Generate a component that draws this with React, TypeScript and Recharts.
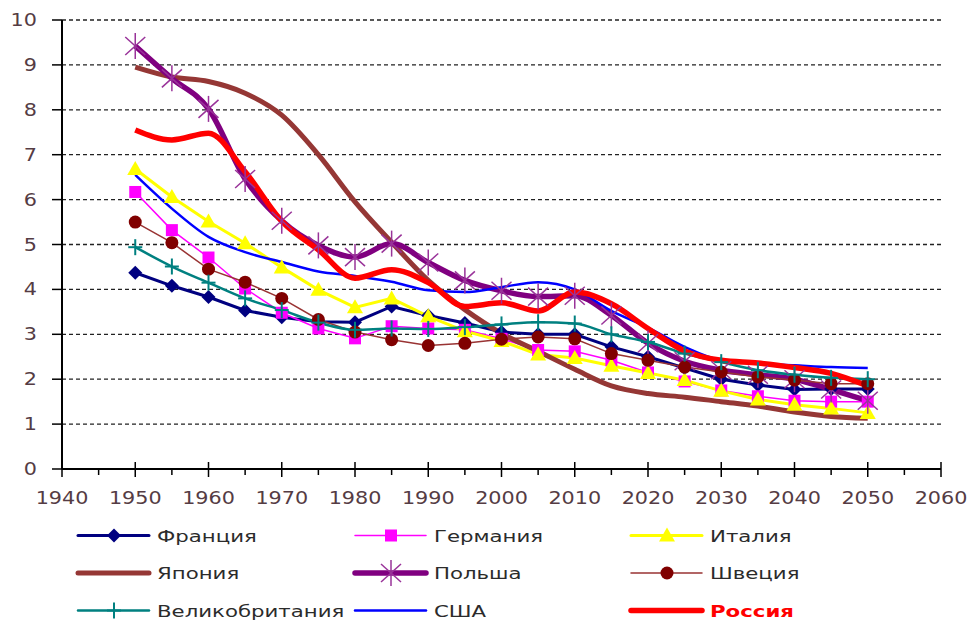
import React from 'react';
import { LineChart, Line, XAxis, YAxis, CartesianGrid } from 'recharts';

const years = [1950, 1955, 1960, 1965, 1970, 1975, 1980, 1985, 1990, 1995, 2000, 2005, 2010, 2015, 2020, 2025, 2030, 2035, 2040, 2045, 2050];

const france = [4.37, 4.08, 3.83, 3.53, 3.38, 3.28, 3.27, 3.62, 3.42, 3.25, 3.05, 3.0, 3.0, 2.72, 2.5, 2.25, 2.0, 1.87, 1.77, 1.78, 1.78];
const germany = [6.17, 5.32, 4.71, 4.02, 3.48, 3.13, 2.91, 3.18, 3.13, 3.1, 2.9, 2.65, 2.62, 2.42, 2.15, 1.95, 1.75, 1.62, 1.52, 1.5, 1.5];
const italy = [6.68, 6.06, 5.51, 5.03, 4.49, 3.99, 3.6, 3.8, 3.4, 3.07, 2.85, 2.55, 2.47, 2.3, 2.14, 1.98, 1.74, 1.55, 1.43, 1.35, 1.25];
const japan = [8.95, 8.73, 8.63, 8.37, 7.88, 7.0, 5.95, 5.05, 4.2, 3.55, 3.02, 2.62, 2.22, 1.85, 1.68, 1.6, 1.5, 1.4, 1.27, 1.17, 1.13];
const poland = [9.42, 8.7, 8.02, 6.46, 5.53, 4.98, 4.72, 5.02, 4.6, 4.2, 3.97, 3.84, 3.86, 3.42, 2.8, 2.4, 2.2, 2.1, 2.0, 1.77, 1.52];
const sweden = [5.5, 5.04, 4.45, 4.16, 3.8, 3.33, 3.05, 2.88, 2.75, 2.8, 2.89, 2.94, 2.9, 2.57, 2.42, 2.27, 2.16, 2.05, 1.98, 1.9, 1.9];
const uk = [4.94, 4.51, 4.15, 3.8, 3.54, 3.26, 3.1, 3.13, 3.12, 3.16, 3.22, 3.27, 3.24, 3.0, 2.83, 2.57, 2.38, 2.2, 2.1, 2.03, 2.0];
const usa = [6.55, 5.8, 5.17, 4.83, 4.61, 4.4, 4.3, 4.17, 3.98, 3.94, 4.05, 4.16, 4.0, 3.52, 3.15, 2.72, 2.42, 2.35, 2.31, 2.27, 2.25];
const russia = [7.55, 7.33, 7.48, 6.62, 5.52, 4.88, 4.25, 4.44, 4.15, 3.62, 3.7, 3.52, 3.94, 3.68, 3.13, 2.63, 2.42, 2.36, 2.26, 2.13, 1.85];

const xTicks = [1940, 1945, 1950, 1955, 1960, 1965, 1970, 1975, 1980, 1985, 1990, 1995, 2000, 2005, 2010, 2015, 2020, 2025, 2030, 2035, 2040, 2045, 2050, 2055, 2060];
const yTicks = [0, 1, 2, 3, 4, 5, 6, 7, 8, 9, 10];

const data = years.map((year, i) => ({
  year,
  france: france[i],
  germany: germany[i],
  italy: italy[i],
  japan: japan[i],
  poland: poland[i],
  sweden: sweden[i],
  uk: uk[i],
  usa: usa[i],
  russia: russia[i],
}));

const FONT = '"DejaVu Sans", Verdana, sans-serif';
const TICK_COLOR = '#553c44';

// marker shapes, shared by the lines and the legend
const diamond = (cx: number, cy: number) => (
  <path d={`M${cx},${cy - 7}L${cx + 7},${cy}L${cx},${cy + 7}L${cx - 7},${cy}Z`} fill="#000080" />
);
const square = (cx: number, cy: number) => (
  <rect x={cx - 6} y={cy - 6} width={12} height={12} fill="#ff00ff" />
);
const triangle = (cx: number, cy: number) => (
  <path d={`M${cx},${cy - 8}L${cx + 8},${cy + 6}L${cx - 8},${cy + 6}Z`} fill="#ffff00" />
);
const circle = (cx: number, cy: number) => <circle cx={cx} cy={cy} r={6.5} fill="#800000" />;
const plus = (cx: number, cy: number) => (
  <g stroke="#008080" strokeWidth={2}>
    <line x1={cx - 7} y1={cy} x2={cx + 7} y2={cy} />
    <line x1={cx} y1={cy - 8} x2={cx} y2={cy + 8} />
  </g>
);
const asterisk = (cx: number, cy: number) => (
  <g stroke="#993399" strokeWidth={1.5}>
    <line x1={cx - 10} y1={cy - 9} x2={cx + 10} y2={cy + 9} />
    <line x1={cx - 10} y1={cy + 9} x2={cx + 10} y2={cy - 9} />
    <line x1={cx} y1={cy - 13} x2={cx} y2={cy + 13} />
  </g>
);

const makeDot = (shape: (cx: number, cy: number) => React.ReactElement) => (props: any) => {
  const { cx, cy, index } = props;
  if (cx == null || cy == null) return <g key={`d-${index}`} />;
  return <g key={`d-${index}`}>{shape(cx, cy)}</g>;
};

const XTick = (props: any) => {
  const { x, y, payload } = props;
  const major = payload.value % 10 === 0;
  return (
    <g>
      {major ? (
        <line x1={x} y1={y - 7} x2={x} y2={y + 8} stroke="#000" strokeWidth={1.5} />
      ) : (
        <line x1={x} y1={y} x2={x} y2={y + 6} stroke="#000" strokeWidth={1.5} />
      )}
      {major && (
        <text
          transform={`translate(${x},${y + 35}) scale(1.22,1)`}
          textAnchor="middle"
          fontFamily={FONT}
          fontSize={17}
          fill={TICK_COLOR}
        >
          {payload.value}
        </text>
      )}
    </g>
  );
};

const YTick = (props: any) => {
  const { x, y, payload } = props;
  return (
    <g>
      <line x1={x - 10} y1={y} x2={x} y2={y} stroke="#000" strokeWidth={1.5} />
      <text
        transform={`translate(${x - 25},${y + 6}) scale(1.22,1)`}
        textAnchor="end"
        fontFamily={FONT}
        fontSize={17}
        fill={TICK_COLOR}
      >
        {payload.value}
      </text>
    </g>
  );
};

type LegendItem = {
  name: string;
  color: string;
  width: number;
  marker?: (cx: number, cy: number) => React.ReactElement;
  bold?: boolean;
  textColor?: string;
};

const legendRows: LegendItem[][] = [
  [
    { name: 'Франция', color: '#000080', width: 3, marker: diamond },
    { name: 'Германия', color: '#ff00ff', width: 1.5, marker: square },
    { name: 'Италия', color: '#ffff00', width: 3, marker: triangle },
  ],
  [
    { name: 'Япония', color: '#953735', width: 5 },
    { name: 'Польша', color: '#800080', width: 5.5, marker: asterisk },
    { name: 'Швеция', color: '#993333', width: 1.5, marker: circle },
  ],
  [
    { name: 'Великобритания', color: '#008080', width: 2.5, marker: plus },
    { name: 'США', color: '#0000ff', width: 2.5 },
    { name: 'Россия', color: '#ff0000', width: 5.5, bold: true, textColor: '#ff0000' },
  ],
];

const colX = [78, 355, 631];
const rowY = [535.5, 573, 610.5];

function ChartLegend() {
  return (
    <svg width={972} height={621} style={{ position: 'absolute', left: 0, top: 0, pointerEvents: 'none' }}>
      {legendRows.map((row, r) =>
        row.map((item, c) => {
          const x0 = colX[c];
          const y = rowY[r];
          return (
            <g key={item.name}>
              <line x1={x0} y1={y} x2={x0 + 71} y2={y} stroke={item.color} strokeWidth={item.width} strokeLinecap="round" />
              {item.marker && item.marker(x0 + 36, y)}
              <text
                transform={`translate(${x0 + 79},${y + 6}) scale(1.33,1)`}
                fontFamily={FONT}
                fontSize={16}
                fontWeight={item.bold ? 'bold' : 'normal'}
                fill={item.textColor || '#2b2b2b'}
              >
                {item.name}
              </text>
            </g>
          );
        })
      )}
    </svg>
  );
}

export default function App() {
  return (
    <div style={{ position: 'absolute', left: 0, top: 0, width: 972, height: 621, background: '#fff' }}>
      <LineChart width={972} height={621} data={data} margin={{ top: 20, right: 31, bottom: 0, left: 0 }}>
        <CartesianGrid vertical={false} stroke="#222" strokeWidth={1.3} strokeDasharray="4 3" />
        <XAxis
          dataKey="year"
          type="number"
          domain={[1940, 2060]}
          ticks={xTicks}
          interval={0}
          height={152}
          tickSize={0}
          tickMargin={0}
          tickLine={false}
          tick={<XTick />}
          axisLine={{ stroke: '#000', strokeWidth: 2 }}
        />
        <YAxis
          type="number"
          domain={[0, 10]}
          ticks={yTicks}
          interval={0}
          width={62}
          tickSize={0}
          tickMargin={0}
          tickLine={false}
          tick={<YTick />}
          axisLine={{ stroke: '#000', strokeWidth: 2 }}
        />
        <Line dataKey="france" type="linear" stroke="#000080" strokeWidth={3} dot={makeDot(diamond)} activeDot={false} isAnimationActive={false} />
        <Line dataKey="germany" type="linear" stroke="#ff00ff" strokeWidth={1.5} dot={makeDot(square)} activeDot={false} isAnimationActive={false} />
        <Line dataKey="italy" type="linear" stroke="#ffff00" strokeWidth={3} dot={makeDot(triangle)} activeDot={false} isAnimationActive={false} />
        <Line dataKey="japan" type="monotone" stroke="#953735" strokeWidth={5} dot={false} activeDot={false} isAnimationActive={false} />
        <Line dataKey="poland" type="monotone" stroke="#800080" strokeWidth={5.5} dot={makeDot(asterisk)} activeDot={false} isAnimationActive={false} />
        <Line dataKey="sweden" type="linear" stroke="#993333" strokeWidth={1.5} dot={makeDot(circle)} activeDot={false} isAnimationActive={false} />
        <Line dataKey="uk" type="monotone" stroke="#008080" strokeWidth={2.5} dot={makeDot(plus)} activeDot={false} isAnimationActive={false} />
        <Line dataKey="usa" type="monotone" stroke="#0000ff" strokeWidth={2.5} dot={false} activeDot={false} isAnimationActive={false} />
        <Line dataKey="russia" type="monotone" stroke="#ff0000" strokeWidth={5.5} dot={false} activeDot={false} isAnimationActive={false} />
      </LineChart>
      <ChartLegend />
    </div>
  );
}
